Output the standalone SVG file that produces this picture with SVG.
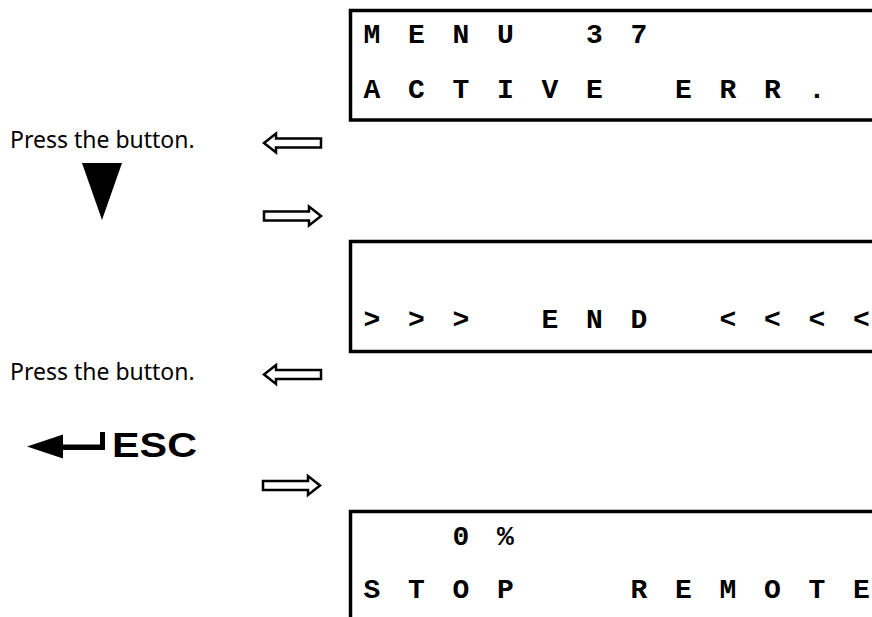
<svg xmlns="http://www.w3.org/2000/svg" width="872" height="617" viewBox="0 0 872 617">
<style>
.box{fill:none;stroke:#000;stroke-width:3.5}
.lcd{font-family:"Liberation Mono","DejaVu Sans Mono",monospace;font-weight:bold;font-size:28px;fill:#000;text-anchor:middle}
.lbl{font-family:"Noto Sans","Open Sans",sans-serif;font-size:23px;fill:#000}
.esc{font-family:"Liberation Sans",Arial,sans-serif;font-weight:bold;font-size:35px;fill:#000}
.harrow{fill:#fff;stroke:#000;stroke-width:2.5;stroke-linejoin:miter}
</style>
<rect width="872" height="617" fill="#fff"/>
<g id="display1">
<rect class="box" x="350.5" y="10.5" width="540" height="109.5"/>
<text class="lcd" x="372 416.5 461 505.5 594.5 639" y="43">MENU37</text>
<text class="lcd" x="372 416.5 461 505.5 550 594.5 683.5 728 772.5 817" y="98">ACTIVEERR.</text>
</g>
<g id="display2">
<rect class="box" x="350.5" y="241.5" width="540" height="110"/>
<text class="lcd" x="372 416.5 461 550 594.5 639 728 772.5 817 861.5" y="328">&gt;&gt;&gt;END&lt;&lt;&lt;&lt;</text>
</g>
<g id="display3">
<rect class="box" x="350.5" y="511.5" width="540" height="130"/>
<text class="lcd" x="461 505.5" y="545">0%</text>
<text class="lcd" x="372 416.5 461 505.5 639 683.5 728 772.5 817 861.5" y="598">STOPREMOTE</text>
</g>
<g id="step1">
<text class="lbl" x="10" y="148">Press the button.</text>
<polygon points="82,163 122,163 102,220" fill="#000"/>
</g>
<g id="step2">
<text class="lbl" x="10" y="380">Press the button.</text>
<path d="M27,446.5 L63,434.5 L63,444.5 L100,444.5 L100,432 L105,432 L105,450 L63,450 L63,458.5 Z" fill="#000"/>
<text class="esc" x="112" y="457" textLength="85" lengthAdjust="spacingAndGlyphs">ESC</text>
</g>
<g id="connectors">
<polygon class="harrow" points="264,143 276,133.5 276,138.5 321,138.5 321,147.5 276,147.5 276,152.5"/>
<polygon class="harrow" points="321,216 309,206.5 309,211.5 264,211.5 264,220.5 309,220.5 309,225.5"/>
<polygon class="harrow" points="264,374.5 276,365 276,370 321,370 321,379 276,379 276,384"/>
<polygon class="harrow" points="320,485.5 308,476 308,481 263,481 263,490 308,490 308,495"/>
</g>
</svg>
